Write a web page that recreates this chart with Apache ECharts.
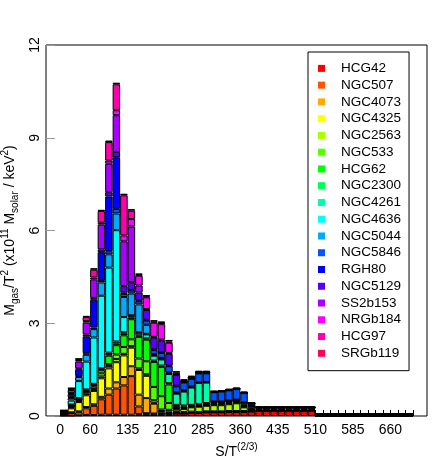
<!DOCTYPE html>
<html>
<head>
<meta charset="utf-8">
<script src="https://cdn.jsdelivr.net/npm/echarts@6/dist/echarts.min.js"></script>
<style>
  html, body { margin: 0; padding: 0; background: #fff; }
  #chart { width: 436px; height: 463px; }
</style>
</head>
<body>
<div id="chart"></div>
<script>
// bin centres of S/T^(2/3), bins are 15 wide starting at 0
var binCenters = [7.5, 22.5, 37.5, 52.5, 67.5, 82.5, 97.5, 112.5, 127.5, 142.5, 157.5, 172.5, 187.5, 202.5, 217.5, 232.5, 247.5,
  262.5, 277.5, 292.5, 307.5, 322.5, 337.5, 352.5, 367.5, 382.5, 397.5, 412.5, 427.5, 442.5, 457.5, 472.5, 487.5, 502.5,
  517.5, 532.5, 547.5, 562.5, 577.5, 592.5, 607.5, 622.5, 637.5, 652.5, 667.5, 682.5, 697.5]

var groups = ['HCG42', 'NGC507', 'NGC4073', 'NGC4325', 'NGC2563', 'NGC533', 'HCG62', 'NGC2300', 'NGC4261',
  'NGC4636', 'NGC5044', 'NGC5846', 'RGH80', 'NGC5129', 'SS2b153', 'NRGb184', 'HCG97', 'SRGb119']

// Mgas/T^2 per bin, one array per group (x10^11 Msolar / keV^2)
var hcg42 = [0.01, 0.01, 0.02, 0.03, 0.03, 0.04, 0.04, 0.04, 0.04, 0.04, 0.06, 0.06, 0.06, 0.06, 0.06, 0.08, 0.08,
  0.1, 0.1, 0.12, 0.12, 0.12, 0.13, 0.13, 0.13, 0.14, 0.17, 0.17, 0.17, 0.17, 0.17, 0.17, 0.17, 0.17,
  0, 0, 0, 0, 0, 0, 0, 0, 0, 0, 0, 0, 0]
var ngc507 = [0.01, 0.09, 0.1, 0.22, 0.3, 0.5, 0.65, 0.85, 0.95, 1.25, 0.25, 0.03, 0.02, 0.02, 0.02, 0.02, 0.01,
  0.01, 0.01, 0.01, 0.01, 0.01, 0.01, 0.01, 0.01, 0.01, 0, 0, 0, 0, 0, 0, 0, 0,
  0, 0, 0, 0, 0, 0, 0, 0, 0, 0, 0, 0, 0]
var ngc4073 = [0.01, 0.02, 0.03, 0.04, 0.05, 0.08, 0.2, 0.2, 0.27, 0.32, 0.38, 0.49, 0.32, 0.03, 0.02, 0.02, 0.01,
  0.01, 0.01, 0.01, 0.01, 0.01, 0.01, 0.01, 0.01, 0.01, 0, 0, 0, 0, 0, 0, 0, 0,
  0, 0, 0, 0, 0, 0, 0, 0, 0, 0, 0, 0, 0]
var ngc4325 = [0.02, 0.13, 0.3, 0.38, 0.43, 0.6, 0.65, 0.65, 0.7, 0.6, 0.8, 0.72, 0.03, 0.05, 0.05, 0.03, 0.03,
  0.02, 0.01, 0.01, 0.01, 0.01, 0.01, 0.01, 0.01, 0.01, 0, 0, 0, 0, 0, 0, 0, 0,
  0, 0, 0, 0, 0, 0, 0, 0, 0, 0, 0, 0, 0]
var ngc2563 = [0.01, 0.03, 0.03, 0.05, 0.06, 0.06, 0.08, 0.1, 0.05, 0.05, 0.05, 0.05, 0.08, 0.05, 0.05, 0.08, 0.1,
  0.14, 0.17, 0.18, 0.2, 0.2, 0.22, 0.25, 0.12, 0.03, 0.01, 0.01, 0.01, 0.01, 0.01, 0.01, 0.01, 0.01,
  0, 0, 0, 0, 0, 0, 0, 0, 0, 0, 0, 0, 0]
var ngc533 = [0.01, 0.03, 0.04, 0.05, 0.08, 0.1, 0.06, 0.15, 0.22, 0.22, 0.32, 0.42, 0.43, 0.43, 0.22, 0.03, 0.03,
  0.02, 0.02, 0.02, 0.02, 0.02, 0.02, 0.02, 0.02, 0.02, 0.01, 0.01, 0.01, 0.01, 0.01, 0.01, 0.01, 0.01,
  0, 0, 0, 0, 0, 0, 0, 0, 0, 0, 0, 0, 0]
var hcg62 = [0.01, 0.02, 0.02, 0.03, 0.04, 0.1, 0.27, 0.3, 0.38, 0.65, 0.7, 0.7, 0.81, 0.95, 0.6, 0.06, 0.05,
  0.03, 0.04, 0.04, 0.03, 0.03, 0.03, 0.03, 0.03, 0.03, 0.03, 0.03, 0.03, 0.03, 0.03, 0.03, 0.03, 0.03,
  0, 0, 0, 0, 0, 0, 0, 0, 0, 0, 0, 0, 0]
var ngc2300 = [0.01, 0.02, 0.02, 0.03, 0.02, 0.03, 0.05, 0.06, 0.05, 0.05, 0.05, 0.04, 0.04, 0.04, 0.04, 0.04, 0.03,
  0.03, 0.03, 0.03, 0.03, 0.03, 0.03, 0.03, 0.03, 0.06, 0.05, 0.05, 0.05, 0.05, 0.05, 0.05, 0.05, 0.05,
  0.06, 0.06, 0.06, 0.06, 0.06, 0.06, 0.06, 0.06, 0.06, 0.06, 0.06, 0.06, 0.06]
var ngc4261 = [0.01, 0.02, 0.02, 0.03, 0.03, 0.03, 0.05, 0.06, 0.05, 0.05, 0.08, 0.13, 0.16, 0.2, 0.3, 0.36, 0.45,
  0.56, 0.68, 0.66, 0.03, 0.03, 0.03, 0.03, 0.07, 0.02, 0, 0, 0, 0, 0, 0, 0, 0,
  0, 0, 0, 0, 0, 0, 0, 0, 0, 0, 0, 0, 0]
var ngc4636 = [0.01, 0.13, 0.55, 0.9, 1.5, 2.35, 2.75, 3.6, 0.49, 0.03, 0.02, 0.02, 0.02, 0.02, 0.02, 0.02, 0.02,
  0.01, 0.01, 0.01, 0, 0, 0, 0, 0, 0, 0, 0, 0, 0, 0, 0, 0, 0,
  0, 0, 0, 0, 0, 0, 0, 0, 0, 0, 0, 0, 0]
var ngc5044 = [0.01, 0.08, 0.13, 0.22, 0.27, 0.43, 0.43, 0.54, 0.65, 0.7, 0.9, 0.29, 0.03, 0.03, 0.03, 0.02, 0.02,
  0.02, 0.01, 0.01, 0.01, 0.01, 0.01, 0.01, 0.01, 0.01, 0, 0, 0, 0, 0, 0, 0, 0,
  0, 0, 0, 0, 0, 0, 0, 0, 0, 0, 0, 0, 0]
var ngc5846 = [0.01, 0.03, 0.03, 0.05, 0.05, 0.05, 0.1, 0.15, 0.1, 0.1, 0.1, 0.14, 0.13, 0.16, 0.2, 0.2, 0.25,
  0.25, 0.29, 0.28, 0.3, 0.32, 0.33, 0.34, 0.3, 0.06, 0.01, 0.01, 0.01, 0.01, 0.01, 0.01, 0.01, 0.01,
  0, 0, 0, 0, 0, 0, 0, 0, 0, 0, 0, 0, 0]
var rgh80 = [0.01, 0.1, 0.22, 0.55, 0.9, 0.93, 1.77, 1.67, 0.05, 0.02, 0.02, 0.02, 0.02, 0.02, 0.02, 0.02, 0.01,
  0.01, 0.01, 0.01, 0, 0, 0, 0, 0, 0, 0, 0, 0, 0, 0, 0, 0, 0,
  0, 0, 0, 0, 0, 0, 0, 0, 0, 0, 0, 0, 0]
var ngc5129 = [0.01, 0.03, 0.03, 0.06, 0.06, 0.09, 0.14, 0.17, 0.2, 0.25, 0.27, 0.32, 0.38, 0.38, 0.38, 0.35, 0.02,
  0.02, 0.01, 0.01, 0.01, 0.01, 0.01, 0.01, 0.01, 0.01, 0, 0, 0, 0, 0, 0, 0, 0,
  0, 0, 0, 0, 0, 0, 0, 0, 0, 0, 0, 0, 0]
var ss2b153 = [0.01, 0.1, 0.22, 0.38, 0.6, 0.8, 0.92, 1.19, 1.45, 1.8, 0.22, 0.03, 0.03, 0.03, 0.03, 0.02, 0.01,
  0.01, 0.01, 0.01, 0, 0, 0, 0, 0, 0, 0, 0, 0, 0, 0, 0, 0, 0,
  0, 0, 0, 0, 0, 0, 0, 0, 0, 0, 0, 0, 0]
var nrgb184 = [0.01, 0.03, 0.05, 0.05, 0.06, 0.06, 0.1, 0.16, 0.19, 0.24, 0.32, 0.38, 0.46, 0.5, 0.33, 0.02, 0.01,
  0.01, 0.01, 0.01, 0, 0, 0, 0, 0, 0, 0, 0, 0, 0, 0, 0, 0, 0,
  0, 0, 0, 0, 0, 0, 0, 0, 0, 0, 0, 0, 0]
var hcg97 = [0.01, 0.02, 0.03, 0.13, 0.25, 0.38, 0.6, 0.84, 1.3, 0.27, 0.03, 0.03, 0.03, 0.04, 0.04, 0.04, 0.02,
  0.02, 0.01, 0.01, 0.01, 0.01, 0.01, 0.01, 0.01, 0.01, 0, 0, 0, 0, 0, 0, 0, 0,
  0, 0, 0, 0, 0, 0, 0, 0, 0, 0, 0, 0, 0]
var srgb119 = [0.01, 0.02, 0.02, 0.04, 0.05, 0.04, 0.05, 0.05, 0.05, 0.05, 0.04, 0.04, 0.05, 0.05, 0.05, 0.04, 0.04,
  0.03, 0.03, 0.03, 0.03, 0.03, 0.03, 0.03, 0.03, 0.03, 0.03, 0.03, 0.03, 0.03, 0.03, 0.03, 0.03, 0.03,
  0, 0, 0, 0, 0, 0, 0, 0, 0, 0, 0, 0, 0]

var xTickLabels = [0, 60, 135, 210, 285, 360, 435, 510, 585, 660]
// edges of the (nearly) empty bins at the far right
var emptyBinEdges = [510, 525, 540, 555, 570, 585, 600, 615, 630, 645, 660, 675, 690, 705]

var colors = ['#FF0000', '#FF5500', '#FFAA00', '#FFFF00', '#AAFF00', '#55FF00', '#00FF00', '#00FF55', '#00FFAA',
  '#00FFFF', '#00AAFF', '#0055FF', '#0000FF', '#5500FF', '#AA00FF', '#FF00FF', '#FF00AA', '#FF0055']

var values = [hcg42, ngc507, ngc4073, ngc4325, ngc2563, ngc533, hcg62, ngc2300, ngc4261,
  ngc4636, ngc5044, ngc5846, rgh80, ngc5129, ss2b153, nrgb184, hcg97, srgb119]

var font = 'Liberation Sans, Arial, sans-serif'
var xMin = -28.2
var xMax = 733.2

var chart = echarts.init(document.getElementById('chart'))

// frame grid carries the real axes; the bar grid is lined up with bins 0..705
var frame = { left: 46, top: 45, width: 381, height: 371 }
var pxPerUnit = frame.width / (xMax - xMin)
var barGrid = {
  left: frame.left + (0 - xMin) * pxPerUnit,
  width: (binCenters[binCenters.length - 1] + 7.5) * pxPerUnit
}

chart.setOption({
  animation: false,
  grid: [{
    left: frame.left,
    top: frame.top,
    width: frame.width,
    height: frame.height,
    outerBoundsMode: 'none',
    show: true,
    borderColor: '#000',
    borderWidth: 1
  }, {
    left: barGrid.left,
    top: frame.top,
    width: barGrid.width,
    height: frame.height,
    outerBoundsMode: 'none',
    show: false
  }],
  legend: {
    orient: 'vertical',
    left: 308,
    top: 52,
    padding: [8, 8, 9, 10],
    itemWidth: 29,
    itemHeight: 7,
    itemGap: 0,
    icon: 'path://M0 0H1V1H0Z',
    selectedMode: false,
    borderColor: '#000',
    borderWidth: 1,
    backgroundColor: '#fff',
    itemStyle: { borderWidth: 0 },
    textStyle: { fontFamily: font, fontSize: 13.5, lineHeight: 16.76, color: '#000' },
    data: groups
  },
  xAxis: [{
    type: 'value',
    gridIndex: 0,
    min: xMin,
    max: xMax,
    name: '{t|S/T}{u|(2/3)}',
    nameLocation: 'middle',
    nameGap: 21,
    nameTextStyle: {
      rich: {
        t: { fontFamily: font, fontSize: 14, lineHeight: 20, color: '#000' },
        u: { fontFamily: font, fontSize: 10, lineHeight: 10, verticalAlign: 'top', color: '#000' }
      }
    },
    axisLine: { show: false, onZero: false },
    axisTick: {
      show: true,
      inside: true,
      length: 6,
      customValues: emptyBinEdges,
      lineStyle: { color: '#000', width: 1 }
    },
    axisLabel: {
      customValues: xTickLabels,
      fontFamily: font,
      fontSize: 14,
      color: '#000',
      margin: 7
    },
    splitLine: { show: false }
  }, {
    type: 'category',
    gridIndex: 1,
    data: binCenters,
    show: false
  }],
  yAxis: [{
    type: 'value',
    gridIndex: 0,
    min: 0,
    max: 12,
    interval: 3,
    name: '{t|M}{b|gas}{t|/T}{u|2}{t| (x10}{u|11}{t| M}{b|solar}{t| / keV}{u|2}{t|)}',
    nameLocation: 'middle',
    nameRotate: 90,
    nameGap: 21,
    nameTextStyle: {
      rich: {
        t: { fontFamily: font, fontSize: 14, lineHeight: 20, color: '#000' },
        b: { fontFamily: font, fontSize: 10, lineHeight: 10, verticalAlign: 'bottom', color: '#000' },
        u: { fontFamily: font, fontSize: 10, lineHeight: 10, verticalAlign: 'top', color: '#000' }
      }
    },
    axisLine: { show: false, onZero: false },
    axisTick: { show: true, inside: true, length: 9, lineStyle: { color: '#999' } },
    axisLabel: { rotate: 90, margin: 4, fontFamily: font, fontSize: 14, color: '#000' },
    splitLine: { show: false }
  }, {
    type: 'value',
    gridIndex: 1,
    min: 0,
    max: 12,
    show: false
  }],
  series: groups.map(function (g, k) {
    return {
      name: g,
      type: 'bar',
      xAxisIndex: 1,
      yAxisIndex: 1,
      stack: 'total',
      barWidth: 7.5,
      emphasis: { disabled: true },
      itemStyle: { color: colors[k], borderColor: '#000', borderWidth: 1 },
      data: values[k]
    }
  })
})
</script>
</body>
</html>
